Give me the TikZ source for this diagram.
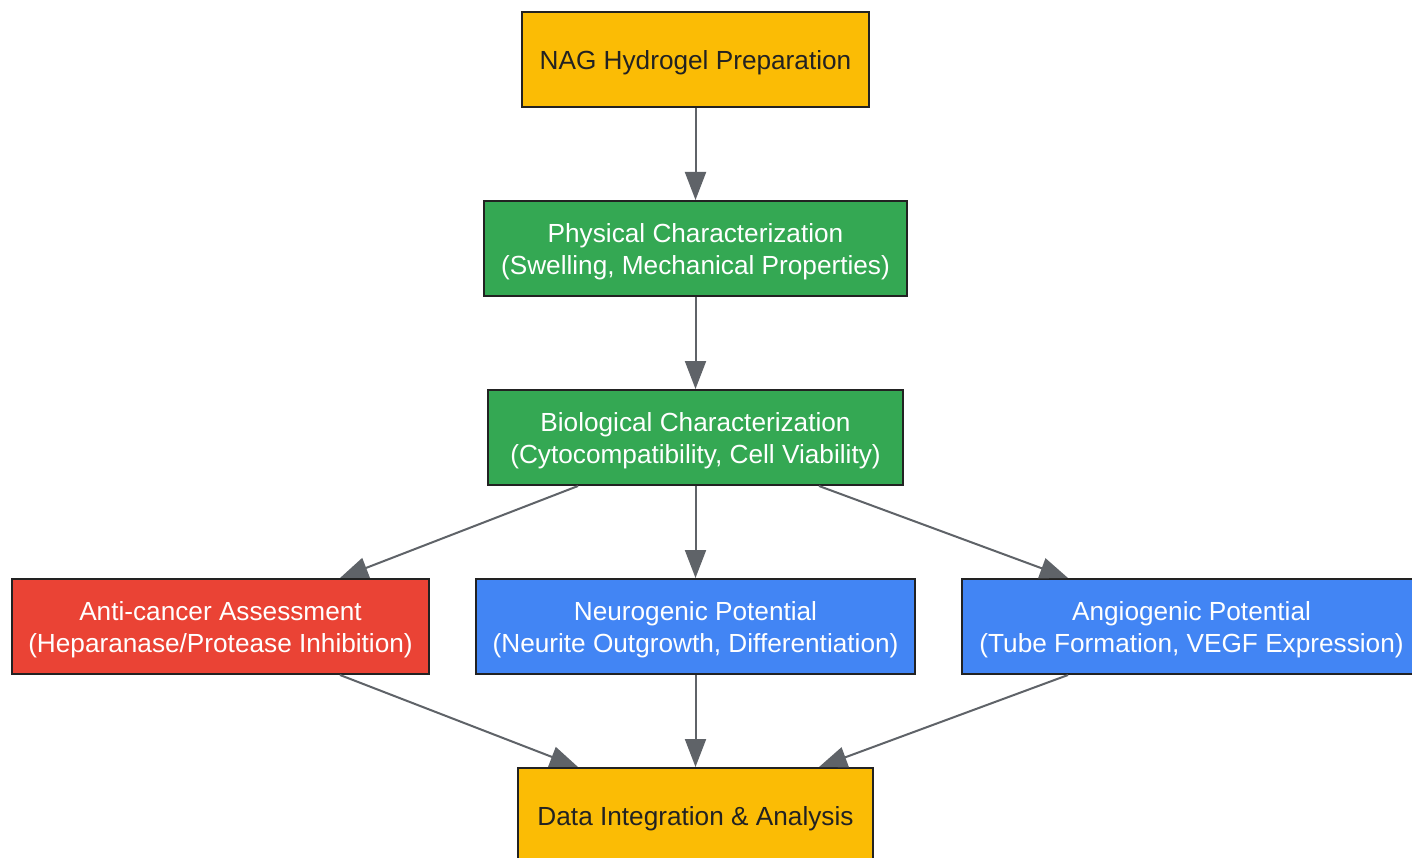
\documentclass[tikz,border=0pt]{standalone}
\usepackage{fontspec}
\setmainfont{Liberation Sans}
\usetikzlibrary{arrows.meta}
\definecolor{gyellow}{HTML}{FBBC05}
\definecolor{ggreen}{HTML}{34A853}
\definecolor{gred}{HTML}{EA4335}
\definecolor{gblue}{HTML}{4285F4}
\definecolor{boxline}{HTML}{222222}
\definecolor{arrowgray}{HTML}{5F6368}
\definecolor{darktext}{HTML}{222222}
\begin{document}
\begin{tikzpicture}[x=1pt,y=-1pt,
  box/.style={draw=boxline, line width=2pt, minimum height=95pt, inner sep=0pt},
  txt/.style={inner sep=0pt, align=center, font=\fontsize{26.2}{32}\selectfont},
  yellowbox/.style={box, fill=gyellow},
  greenbox/.style={box, fill=ggreen},
  redbox/.style={box, fill=gred},
  bluebox/.style={box, fill=gblue},
  darktxt/.style={txt, text=darktext},
  lighttxt/.style={txt, text=white},
  conn/.style={draw=arrowgray, line width=2pt, -{Triangle[length=28pt,width=21pt]}}]
\clip (0,0) rectangle (1412,858);
\fill[white] (0,0) rectangle (1412,858);

\node[yellowbox, minimum width=347pt] (nag) at (695.5,59.5) {};
\node[greenbox, minimum width=423pt] (phys) at (695.5,248.5) {};
\node[greenbox, minimum width=415pt] (bio) at (695.5,437.5) {};
\node[redbox, minimum width=417pt] (anti) at (220.5,626.5) {};
\node[bluebox, minimum width=439pt] (neuro) at (695.5,626.5) {};
\node[bluebox, minimum width=459pt] (angio) at (1191.5,626.5) {};
\node[yellowbox, minimum width=355pt] (data) at (695.5,815.5) {};

\node[darktxt] (nagtxt) at ([yshift=-3pt]nag.center) {NAG Hydrogel Preparation};
\node[lighttxt] (phystxt) at ([yshift=-3pt]phys.center) {Physical Characterization\\(Swelling, Mechanical Properties)};
\node[lighttxt] (biotxt) at ([yshift=-3pt]bio.center) {Biological Characterization\\(Cytocompatibility, Cell Viability)};
\node[lighttxt] (antitxt) at ([yshift=-3pt]anti.center) {Anti-cancer Assessment\\(Heparanase/Protease Inhibition)};
\node[lighttxt] (neurotxt) at ([yshift=-3pt]neuro.center) {Neurogenic Potential\\(Neurite Outgrowth, Differentiation)};
\node[lighttxt] (angiotxt) at ([yshift=-3pt]angio.center) {Angiogenic Potential\\(Tube Formation, VEGF Expression)};
\node[darktxt] (datatxt) at ([yshift=-3pt]data.center) {Data Integration \& Analysis};

\draw[conn] (nag.south) -- (phys.north);
\draw[conn] (phys.south) -- (bio.north);
\draw[conn] ([xshift=-117.5pt]bio.south) -- ([xshift=119.5pt]anti.north);
\draw[conn] (bio.south) -- (neuro.north);
\draw[conn] ([xshift=123.5pt]bio.south) -- ([xshift=-123.5pt]angio.north);
\draw[conn] ([xshift=119.5pt]anti.south) -- ([xshift=-117.5pt]data.north);
\draw[conn] (neuro.south) -- (data.north);
\draw[conn] ([xshift=-123.5pt]angio.south) -- ([xshift=123.5pt]data.north);
\end{tikzpicture}
\end{document}
